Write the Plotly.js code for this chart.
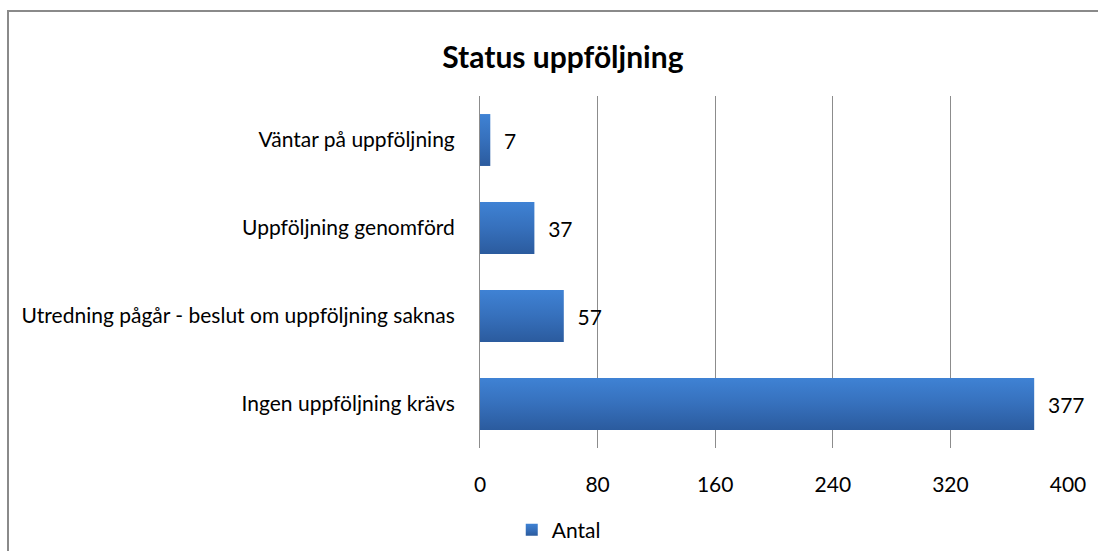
<!DOCTYPE html>
<html>
<head>
<meta charset="utf-8">
<script src="https://cdn.plot.ly/plotly-3.0.1.min.js"></script>
<style>html,body{margin:0;padding:0;background:#fff;}#chart{width:1098px;height:551px;}</style>
</head>
<body>
<div id="chart"></div>
<script>
const categories = ["Väntar på uppföljning", "Uppföljning genomförd", "Utredning pågår - beslut om uppföljning saknas", "Ingen uppföljning krävs"];
const values = [7, 37, 57, 377];
const seriesName = "Antal";
const tickValues = [0, 80, 160, 240, 320, 400];
const titleText = "Status uppföljning";

const FONT = "Lato, 'Open Sans', sans-serif";

const trace = {
  type: "bar",
  orientation: "h",
  name: seriesName,
  y: categories,
  x: values,
  marker: {color: "#3569b0", line: {width: 0}},
  text: values.map(v => "\u00a0\u00a0" + v),
  textposition: "outside",
  textfont: {family: FONT, size: 21, color: "#000"},
  cliponaxis: false,
  hoverinfo: "skip"
};

const layout = {
  width: 1098,
  height: 551,
  margin: {l: 480, r: 30, t: 96, b: 103},
  paper_bgcolor: "#fff",
  plot_bgcolor: "#fff",
  font: {family: FONT, size: 21, color: "#000"},
  title: {
    text: "<b>" + titleText + "</b>",
    font: {family: FONT, size: 30, color: "#000"},
    xref: "paper", x: 0.141, xanchor: "center",
    yref: "container", y: 1 - 57/551, yanchor: "middle"
  },
  bargap: 0.41,
  xaxis: {
    range: [0, 400],
    tickvals: tickValues,
    ticktext: tickValues.map(String),
    showgrid: true,
    gridcolor: "#8c8c8c",
    gridwidth: 1,
    zeroline: false,
    showline: false,
    ticks: "",
    ticklabelstandoff: 22,
    tickfont: {family: FONT, size: 21, color: "#000"}
  },
  yaxis: {
    type: "category",
    autorange: "reversed",
    showgrid: false,
    zeroline: false,
    showline: true,
    linecolor: "#8c8c8c",
    linewidth: 1,
    ticks: "",
    ticklabelstandoff: 20,
    tickfont: {family: FONT, size: 21, color: "#000"}
  },
  showlegend: true,
  legend: {
    orientation: "h",
    xref: "paper", x: 0.054, xanchor: "left",
    yref: "container", y: 1 - 530/551, yanchor: "middle",
    font: {family: FONT, size: 21, color: "#000"},
    bgcolor: "rgba(0,0,0,0)"
  },
  shapes: [{
    type: "rect", xref: "paper", yref: "paper",
    x0: (8 - 480)/588, x1: 1.2, y0: -0.5, y1: (448 - 11)/352,
    line: {color: "#8a8a8a", width: 2}, fillcolor: "rgba(0,0,0,0)", layer: "below"
  }]
};

Plotly.newPlot("chart", [trace], layout, {displayModeBar: false, staticPlot: true}).then(gd => {
  const svg = gd.querySelector("svg.main-svg");
  const ns = "http://www.w3.org/2000/svg";
  let defs = svg.querySelector("defs");
  if (!defs) { defs = document.createElementNS(ns, "defs"); svg.insertBefore(defs, svg.firstChild); }
  const grad = document.createElementNS(ns, "linearGradient");
  grad.setAttribute("id", "barGrad");
  grad.setAttribute("x1", "0"); grad.setAttribute("y1", "0");
  grad.setAttribute("x2", "0"); grad.setAttribute("y2", "1");
  [["0", "#3f82d4"], ["0.5", "#3670bc"], ["1", "#2b5b9e"]].forEach(([o, c]) => {
    const s = document.createElementNS(ns, "stop");
    s.setAttribute("offset", o); s.setAttribute("stop-color", c);
    grad.appendChild(s);
  });
  defs.appendChild(grad);
  gd.querySelectorAll(".bars .point path, .legend .legendpoints path").forEach(p => {
    p.style.fill = "url(#barGrad)";
  });
});
</script>
</body>
</html>
